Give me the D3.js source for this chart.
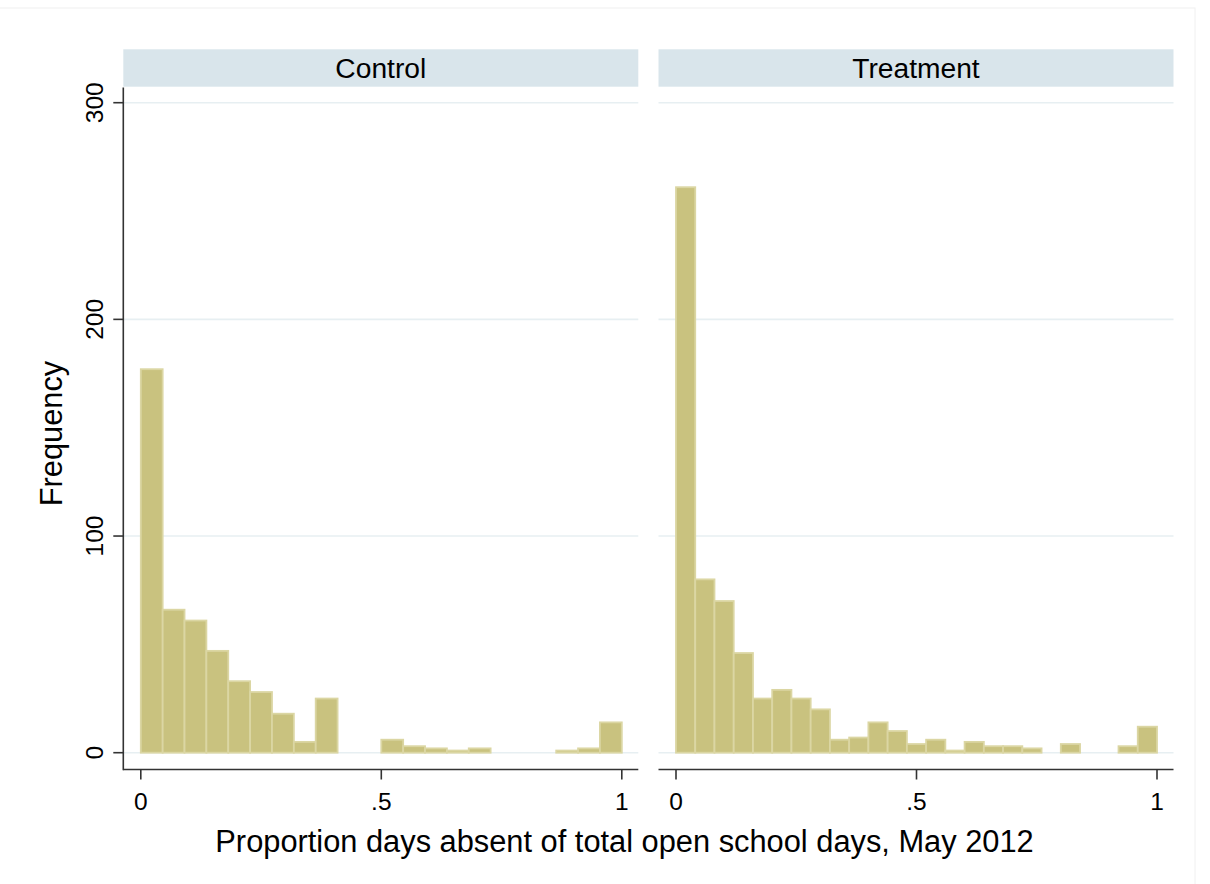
<!DOCTYPE html>
<html>
<head>
<meta charset="utf-8">
<script src="https://cdn.jsdelivr.net/npm/d3@7"></script>
<style>
  html, body { margin: 0; padding: 0; background: #fff; }
  svg { display: block; font-family: "Liberation Sans", Arial, sans-serif; }
</style>
</head>
<body>
<svg id="chart" width="1210" height="884"></svg>
<script>
// Histogram counts per bin, proportion of days absent (range 0..1)
const panels = ["Control", "Treatment"];
const controlCounts = [177, 66, 61, 47, 33, 28, 18, 5, 25, 0, 0, 6, 3, 2, 1, 2, 0, 0, 0, 1, 2, 14];
const treatmentCounts = [261, 80, 70, 46, 25, 29, 25, 20, 6, 7, 14, 10, 4, 6, 1, 5, 3, 3, 2, 0, 4, 0, 0, 3, 12];
const yTicks = [0, 100, 200, 300];
const xTicks = [0, 0.5, 1];
const xTickLabels = ["0", ".5", "1"];
const xTitle = "Proportion days absent of total open school days, May 2012";
const yTitle = "Frequency";

const svg = d3.select("#chart");

// faint outer frame of the graph region
svg.append("rect")
  .attr("x", -2).attr("y", 8).attr("width", 1197).attr("height", 890)
  .attr("fill", "none").attr("stroke", "#f0f0f0").attr("stroke-width", 1);

const plotTop = 87.5, plotBottom = 769.5;
const panelW = 515;
const panelLefts = [123.3, 658.5];

const y = d3.scaleLinear().domain([0, 300]).range([752.7, 102.7]);
const x = d3.scaleLinear().domain([0, 1]).range([17.5, 498.5]);

const countsByPanel = [controlCounts, treatmentCounts];

panels.forEach((name, i) => {
  const g = svg.append("g").attr("transform", `translate(${panelLefts[i]},0)`);
  const counts = countsByPanel[i];
  const n = counts.length;
  const bins = counts.map((c, k) => ({ x0: k / n, x1: (k + 1) / n, count: c }));

  // strip header
  g.append("rect")
    .attr("x", 0).attr("y", 49.3).attr("width", panelW).attr("height", 37.4)
    .attr("fill", "#d9e5eb");
  g.append("text")
    .attr("x", panelW / 2).attr("y", 77.5)
    .attr("text-anchor", "middle")
    .attr("font-size", 28.2).attr("fill", "#000")
    .text(name);

  // horizontal gridlines
  g.selectAll(".grid").data(yTicks).join("line")
    .attr("x1", 0).attr("x2", panelW)
    .attr("y1", d => y(d)).attr("y2", d => y(d))
    .attr("stroke", "#e7eff2").attr("stroke-width", 1.6);

  // histogram bars
  g.selectAll(".bar").data(bins.filter(b => b.count > 0)).join("rect")
    .attr("x", d => x(d.x0))
    .attr("width", d => x(d.x1) - x(d.x0))
    .attr("y", d => y(d.count))
    .attr("height", d => y(0) - y(d.count))
    .attr("fill", "#c9c27f")
    .attr("stroke", "#dbd6a3")
    .attr("stroke-width", 1.8);

  // x axis
  const xa = g.append("g").attr("transform", `translate(0,${plotBottom})`);
  xa.append("line").attr("x1", 0).attr("x2", panelW)
    .attr("stroke", "#333").attr("stroke-width", 1.6);
  xa.selectAll(".tk").data(xTicks).join("line")
    .attr("x1", d => x(d)).attr("x2", d => x(d))
    .attr("y1", 0).attr("y2", 10)
    .attr("stroke", "#333").attr("stroke-width", 1.6);
  xa.selectAll(".tl").data(xTicks).join("text")
    .attr("x", d => x(d)).attr("y", 40.5)
    .attr("text-anchor", "middle")
    .attr("font-size", 24.5).attr("fill", "#000")
    .text((d, k) => xTickLabels[k]);

  // y axis only on the first panel
  if (i === 0) {
    g.append("line")
      .attr("x1", 0).attr("x2", 0).attr("y1", plotTop).attr("y2", plotBottom + 0.8)
      .attr("stroke", "#333").attr("stroke-width", 1.6);
    g.selectAll(".ytk").data(yTicks).join("line")
      .attr("x1", -10).attr("x2", 0)
      .attr("y1", d => y(d)).attr("y2", d => y(d))
      .attr("stroke", "#333").attr("stroke-width", 1.6);
    g.selectAll(".ytl").data(yTicks).join("text")
      .attr("transform", d => `translate(-20,${y(d)}) rotate(-90)`)
      .attr("text-anchor", "middle")
      .attr("font-size", 24.5).attr("fill", "#000")
      .text(d => d);
  }
});

// axis titles
svg.append("text")
  .attr("x", 624.5).attr("y", 851.5)
  .attr("text-anchor", "middle")
  .attr("font-size", 30.8).attr("fill", "#000")
  .text(xTitle);

svg.append("text")
  .attr("transform", "translate(61.5,433.5) rotate(-90)")
  .attr("text-anchor", "middle")
  .attr("font-size", 30.8).attr("fill", "#000")
  .text(yTitle);
</script>
</body>
</html>
